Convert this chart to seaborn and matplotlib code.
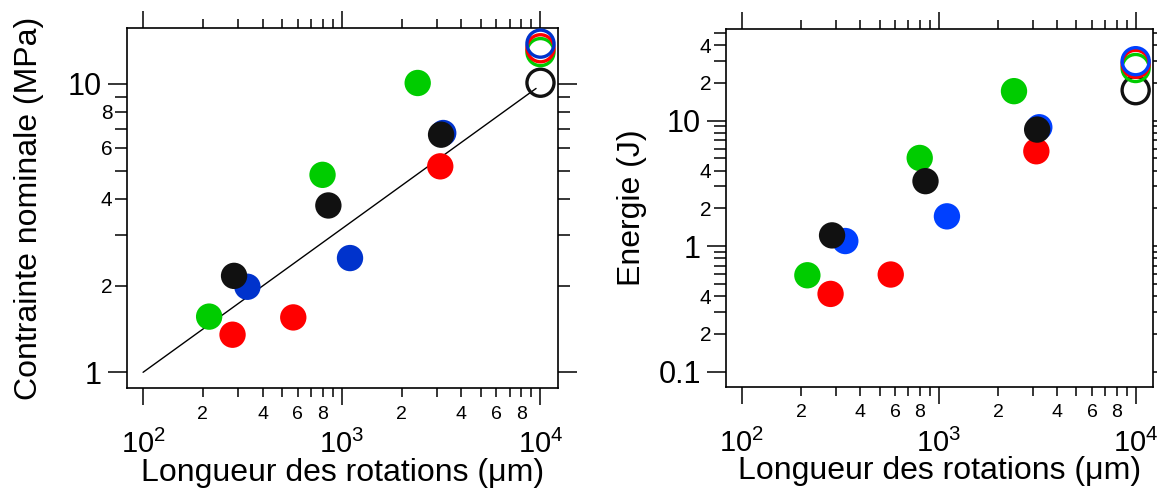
import matplotlib
matplotlib.use("Agg")
import matplotlib.pyplot as plt
import pandas as pd
import seaborn as sns
from matplotlib.ticker import FixedLocator, FixedFormatter

# ---------------- data ----------------
series = ["vert", "rouge", "bleu", "noir"]
x_vert = [215, 800, 2410]
x_rouge = [282, 570, 3130]
x_bleu = [335, 1100, 3240]
x_noir = [287, 856, 3160]

contrainte_vert = [1.56, 4.84, 10.08]
contrainte_rouge = [1.35, 1.55, 5.18]
contrainte_bleu = [1.98, 2.49, 6.76]
contrainte_noir = [2.16, 3.79, 6.67]

energie_vert = [0.587, 5.05, 17.2]
energie_rouge = [0.417, 0.595, 5.71]
energie_bleu = [1.10, 1.73, 8.87]
energie_noir = [1.22, 3.30, 8.5]

ouvert_series = ["noir", "vert", "rouge", "bleu"]
x_ouvert = [10000, 10000, 10000, 10000]
contrainte_ouvert = [10.1, 12.9, 13.3, 13.8]
energie_ouvert = [17.5, 26.3, 28.4, 29.8]

fit_x = [100, 9500]
fit_y = [1.0, 9.65]

x_major_labels = ["$10^{2}$", "$10^{3}$", "$10^{4}$"]
minor_digits = [2, 3, 4, 5, 6, 7, 8, 9]
x_minor_shown = [2, 4, 6, 8]
left_y_major_labels = ["1", "10"]
left_y_minor_shown = [2, 4, 6, 8]
right_y_major_labels = ["0.1", "1", "10"]
right_y_minor_shown = [2, 4]

xlabel = "Longueur des rotations (\u03bcm)"
ylabel_left = "Contrainte nominale (MPa)"
ylabel_right = "Energie (J)"

pal_left = {"vert": "#00cc00", "rouge": "#ff0000", "bleu": "#0033cc", "noir": "#111111"}
pal_right = {"vert": "#00cc00", "rouge": "#ff0000", "bleu": "#0040ff", "noir": "#111111"}

# ---------------- style ----------------
sns.set_theme(style="ticks")
plt.rcParams["font.family"] = ["Liberation Sans", "DejaVu Sans"]
plt.rcParams["mathtext.fontset"] = "custom"
plt.rcParams["mathtext.rm"] = "Liberation Sans"
plt.rcParams["mathtext.it"] = "Liberation Sans:italic"
plt.rcParams["mathtext.bf"] = "Liberation Sans:bold"
plt.rcParams["text.color"] = "black"
plt.rcParams["axes.labelcolor"] = "black"
plt.rcParams["xtick.color"] = "black"
plt.rcParams["ytick.color"] = "black"

fig = plt.figure(figsize=(11.57, 4.9), dpi=100)
W, H = 1157, 490


def add_axes_px(left, right, top, bottom):
    return fig.add_axes([left / W, 1 - bottom / H, (right - left) / W, (bottom - top) / H])


ax1 = add_axes_px(127, 558, 28.3, 388.3)
ax2 = add_axes_px(726, 1153, 29.3, 386.7)


def frame(x_lists, y_lists):
    rows = []
    for s, xs, ys in zip(series, x_lists, y_lists):
        for xv, yv in zip(xs, ys):
            rows.append({"serie": s, "x": xv, "y": yv})
    return pd.DataFrame(rows)


df_left = frame([x_vert, x_rouge, x_bleu, x_noir],
                [contrainte_vert, contrainte_rouge, contrainte_bleu, contrainte_noir])
df_right = frame([x_vert, x_rouge, x_bleu, x_noir],
                 [energie_vert, energie_rouge, energie_bleu, energie_noir])
open_left = pd.DataFrame({"serie": ouvert_series, "x": x_ouvert, "y": contrainte_ouvert})
open_right = pd.DataFrame({"serie": ouvert_series, "x": x_ouvert, "y": energie_ouvert})
fit_df = pd.DataFrame({"x": fit_x, "y": fit_y})

S_FILLED = 360
S_OPEN = 380


def draw(ax, df, dfo, pal):
    sns.scatterplot(data=df, x="x", y="y", hue="serie", palette=pal, s=S_FILLED,
                    linewidth=0, legend=False, ax=ax, zorder=3)
    sns.scatterplot(data=dfo, x="x", y="y", hue="serie", palette=pal, s=S_OPEN,
                    legend=False, ax=ax, zorder=4, clip_on=False)
    coll = ax.collections[-1]
    fc = coll.get_facecolors()
    coll.set_edgecolors(fc)
    coll.set_facecolors("none")
    coll.set_linewidth(2.4)


def style_axis(ax, y_major, y_major_labels, y_minor_decades, y_minor_shown, ylim, ylabel, ylab_x):
    ax.set_xscale("log")
    ax.set_yscale("log")
    ax.set_xlim(83, 12250)
    ax.set_ylim(*ylim)
    # x ticks
    ax.xaxis.set_major_locator(FixedLocator([100, 1000, 10000]))
    ax.xaxis.set_major_formatter(FixedFormatter(x_major_labels))
    xm = [d * 10 ** e for e in (2, 3) for d in minor_digits]
    ax.xaxis.set_minor_locator(FixedLocator(xm))
    ax.xaxis.set_minor_formatter(FixedFormatter(
        [str(d) if d in x_minor_shown else "" for e in (2, 3) for d in minor_digits]))
    # y ticks
    ax.yaxis.set_major_locator(FixedLocator(y_major))
    ax.yaxis.set_major_formatter(FixedFormatter(y_major_labels))
    ym = [d * 10.0 ** e for e in y_minor_decades for d in minor_digits]
    ax.yaxis.set_minor_locator(FixedLocator(ym))
    ax.yaxis.set_minor_formatter(FixedFormatter(
        [str(d) if d in y_minor_shown else "" for e in y_minor_decades for d in minor_digits]))

    ax.tick_params(which="both", direction="out", top=True, right=True,
                   labeltop=False, labelright=False, width=1.1, color="black",
                   labelcolor="black")
    ax.tick_params(axis="x", which="major", length=12, pad=18, labelsize=21)
    ax.tick_params(axis="x", which="minor", length=6.5, pad=6, labelsize=14)
    ax.tick_params(axis="y", which="major", length=14, pad=4, labelsize=22)
    ax.tick_params(axis="y", which="minor", length=8.5, pad=2, labelsize=15)
    for sp in ax.spines.values():
        sp.set_visible(True)
        sp.set_linewidth(1.2)
        sp.set_color("black")
    ax.set_xlabel(xlabel, fontsize=23, va="center", color="black")
    ax.set_ylabel(ylabel, fontsize=23, va="center", color="black")
    ax.xaxis.set_label_coords(0.5, -0.235)
    ax.yaxis.set_label_coords(ylab_x, 0.5)
    ax.set_facecolor("white")


draw(ax1, df_left, open_left, pal_left)
sns.lineplot(data=fit_df, x="x", y="y", color="black", linewidth=1.0, ax=ax1, zorder=2)
draw(ax2, df_right, open_right, pal_right)

style_axis(ax1, [1, 10], left_y_major_labels, (0,), left_y_minor_shown,
           (0.88, 15.6), ylabel_left, -0.227)
style_axis(ax2, [0.1, 1, 10], right_y_major_labels, (-1, 0, 1), right_y_minor_shown,
           (0.076, 53.5), ylabel_right, -0.22)

fig.savefig("out.png", dpi=100, facecolor="white")
